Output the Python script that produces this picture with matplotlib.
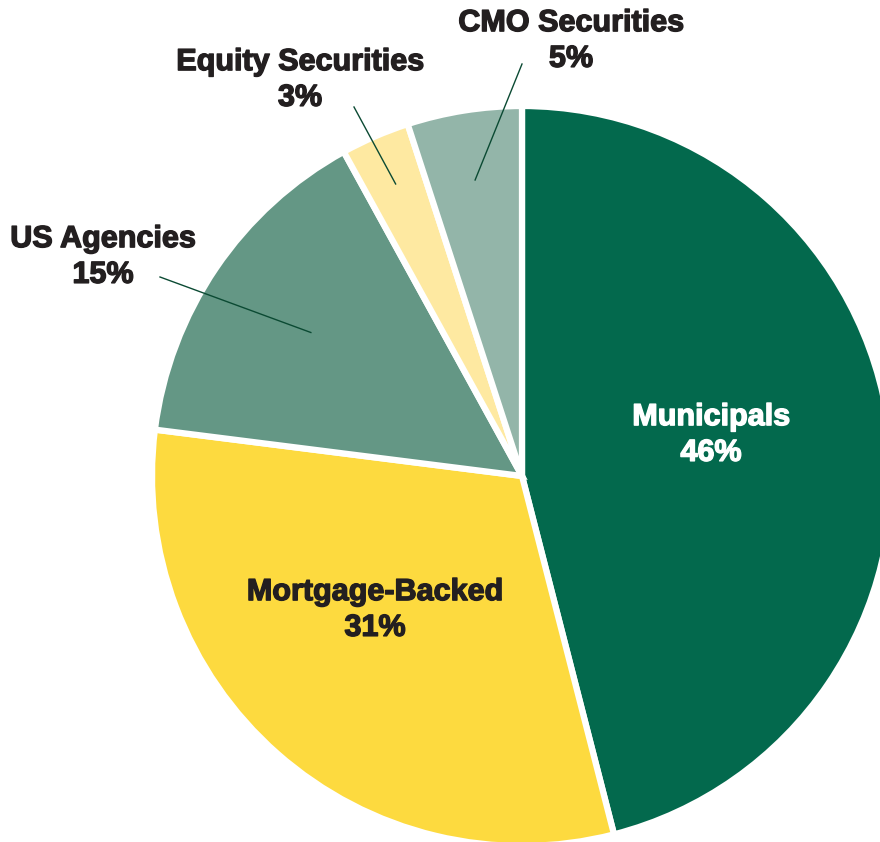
import numpy as np
import matplotlib.pyplot as plt
import matplotlib.patheffects as pe

# portfolio composition, clockwise from 12 o'clock
labels = ['Municipals', 'Mortgage-Backed', 'US Agencies', 'Equity Securities', 'CMO Securities']
shares = [46, 31, 15, 3, 5]
colors = ['#03694D', '#FDDA3F', '#649785', '#FEE9A1', '#93B5A9']

plt.rcParams['font.family'] = ['Liberation Sans', 'DejaVu Sans']

fig = plt.figure(figsize=(8.8, 8.42), dpi=100)
ax = fig.add_axes([0, 0, 1, 1])

cx, cy, R = 522, 476, 370
# ylim is inverted below, so counterclock=True runs clockwise on screen
wedges, _ = ax.pie(shares, colors=colors, startangle=-90, counterclock=True,
                   center=(cx, cy), radius=R, frame=True,
                   wedgeprops=dict(edgecolor='white', linewidth=4.5))
ax.set_xlim(0, 880)
ax.set_ylim(842, 0)
ax.set_aspect('equal')
ax.axis('off')

def heavy(color):
    # thicken the glyphs a little for a heavier look
    return [pe.withStroke(linewidth=1.0, foreground=color)]

txt_kw = dict(fontsize=22, fontweight='bold', ha='center', va='center', linespacing=1.25)

# labels inside the two big slices
ax.text(711, 435, f'{labels[0]}\n{shares[0]}%', color='white',
        path_effects=heavy('white'), **txt_kw)
ax.text(375, 610, f'{labels[1]}\n{shares[1]}%', color='#231F20',
        path_effects=heavy('#231F20'), **txt_kw)

# outside labels with leader lines: (text centre, line start, radius fraction of line end)
outside = {
    2: ((103, 257), (160, 277), 0.69),
    3: ((300, 80), (354, 107), 0.86),
    4: ((571, 41), (522, 64), 0.81),
}
cum = np.cumsum([0] + shares)
for i, ((tx, ty), (lx, ly), frac) in outside.items():
    mid = (cum[i] + cum[i + 1]) / 2 / 100 * 2 * np.pi
    ex = cx + frac * R * np.sin(mid)
    ey = cy - frac * R * np.cos(mid)
    ax.plot([lx, ex], [ly, ey], color='#0B4A33', lw=1)
    ax.text(tx, ty, f'{labels[i]}\n{shares[i]}%', color='#231F20',
            path_effects=heavy('#231F20'), **txt_kw)

fig.savefig('out.png', dpi=100, facecolor='white')
